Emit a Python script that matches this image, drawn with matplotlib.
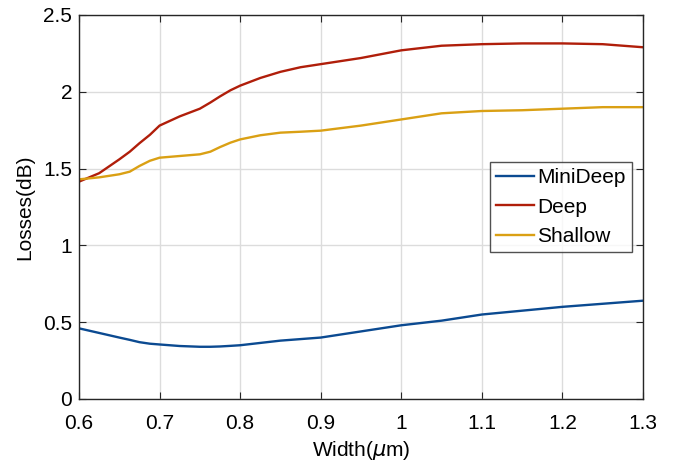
import matplotlib
matplotlib.use("Agg")
import matplotlib.pyplot as plt

plt.rcParams['font.family'] = ['Liberation Sans', 'DejaVu Sans']
plt.rcParams['mathtext.fontset'] = 'dejavusans'

width = [0.600, 0.625, 0.650, 0.663, 0.675, 0.688, 0.700, 0.725, 0.750, 0.763, 0.775, 0.788,
         0.800, 0.825, 0.850, 0.875, 0.900, 0.950, 1.000, 1.050, 1.100, 1.150, 1.200, 1.250, 1.300]
minideep = [0.46, 0.43, 0.40, 0.385, 0.37, 0.36, 0.355, 0.345, 0.34, 0.34, 0.342, 0.346,
            0.35, 0.365, 0.38, 0.39, 0.40, 0.44, 0.48, 0.51, 0.55, 0.575, 0.60, 0.62, 0.64]
deep = [1.415, 1.47, 1.56, 1.61, 1.665, 1.72, 1.78, 1.84, 1.89, 1.93, 1.97, 2.01,
        2.04, 2.09, 2.13, 2.16, 2.18, 2.22, 2.27, 2.30, 2.31, 2.315, 2.315, 2.31, 2.29]
shallow = [1.43, 1.443, 1.463, 1.48, 1.517, 1.551, 1.571, 1.582, 1.593, 1.61, 1.64, 1.669,
           1.69, 1.717, 1.734, 1.74, 1.747, 1.78, 1.82, 1.86, 1.875, 1.88, 1.89, 1.90, 1.90]

fig = plt.figure(figsize=(6.77, 4.66), dpi=100)
ax = fig.add_axes([79/677, 1 - 399/466, 564/677, 384/466])

ax.plot(width, minideep, color='#0B4A91', lw=1.7, label='MiniDeep')
ax.plot(width, deep, color='#B01E0A', lw=1.7, label='Deep')
ax.plot(width, shallow, color='#DAA014', lw=1.7, label='Shallow')

ax.set_xlim(0.6, 1.3)
ax.set_ylim(0, 2.5)
ax.set_xticks([0.6, 0.7, 0.8, 0.9, 1.0, 1.1, 1.2, 1.3])
ax.set_xticklabels(['0.6', '0.7', '0.8', '0.9', '1', '1.1', '1.2', '1.3'])
ax.set_yticks([0, 0.5, 1, 1.5, 2, 2.5])
ax.set_yticklabels(['0', '0.5', '1', '1.5', '2', '2.5'])
ax.grid(True, color='#DCDCDC', lw=1)
ax.set_axisbelow(True)
ax.tick_params(direction='in', top=True, right=True, labelsize=15, length=5, color='#262626')
ax.tick_params(axis='x', pad=11)
ax.tick_params(axis='y', pad=5)
for s in ax.spines.values():
    s.set_color('#262626')
    s.set_linewidth(1)

ax.set_xlabel(r'Width($\mu$m)', fontsize=15, labelpad=4)
ax.set_ylabel('Losses(dB)', fontsize=15, labelpad=6)

leg = ax.legend(loc='upper left', bbox_to_anchor=(490/677, 1 - 162/466), bbox_transform=fig.transFigure,
                fontsize=15, frameon=True, fancybox=False, edgecolor='#262626',
                handlelength=1.8, handletextpad=0.15, borderpad=0.3, labelspacing=0.5, borderaxespad=0)
leg.get_frame().set_linewidth(1)

fig.savefig('out.png', dpi=100)
